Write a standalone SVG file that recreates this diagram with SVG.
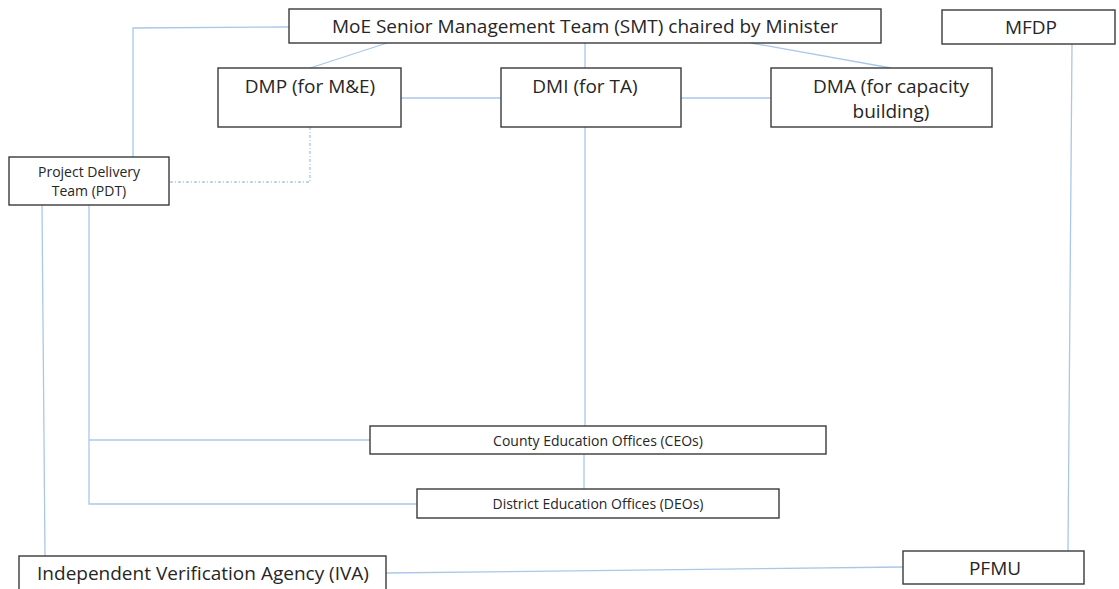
<svg xmlns="http://www.w3.org/2000/svg" width="1119" height="589" viewBox="0 0 1119 589">
  <style>
    .box { fill: #ffffff; stroke: #3a3a3a; stroke-width: 1.4; }
    .lbl { font-family: "Open Sans", "Liberation Sans", sans-serif; fill: #262626; text-anchor: middle; }
    .big { font-size: 19px; }
    .small { font-size: 14px; }
    .link { fill: none; stroke: #a9c8e8; stroke-width: 1.3; }
    .dotted { stroke-dasharray: 3 2 1 2; }
  </style>
  <rect width="1119" height="589" fill="#ffffff"/>

  <g id="connectors">
    <!-- SMT to PDT -->
    <polyline class="link" points="289,27 133,28 133,157"/>
    <!-- SMT to directorates -->
    <line class="link" x1="387" y1="43" x2="310" y2="68"/>
    <line class="link" x1="585" y1="43" x2="585" y2="68"/>
    <line class="link" x1="751" y1="43" x2="891" y2="68"/>
    <!-- directorates linked side by side -->
    <line class="link" x1="401" y1="98" x2="501" y2="98"/>
    <line class="link" x1="681" y1="98" x2="771" y2="98"/>
    <!-- DMP to PDT (dotted) -->
    <polyline class="link dotted" points="310,127 310,182 169,182"/>
    <!-- DMI down to CEOs and DEOs -->
    <line class="link" x1="585" y1="127" x2="585" y2="426"/>
    <line class="link" x1="584" y1="454" x2="584" y2="489"/>
    <!-- PDT to CEOs and DEOs -->
    <polyline class="link" points="89,205 89,504 417,504"/>
    <line class="link" x1="89" y1="440" x2="370" y2="440"/>
    <!-- PDT to IVA -->
    <line class="link" x1="42" y1="205" x2="45" y2="556"/>
    <!-- MFDP to PFMU -->
    <line class="link" x1="1072" y1="44" x2="1068" y2="551"/>
    <!-- IVA to PFMU -->
    <line class="link" x1="386" y1="573" x2="903" y2="567"/>
  </g>

  <g id="smt">
    <rect class="box" x="289" y="9" width="592" height="34"/>
    <text class="lbl big" x="585" y="33">MoE Senior Management Team (SMT) chaired by Minister</text>
  </g>
  <g id="mfdp">
    <rect class="box" x="942" y="10" width="173" height="34"/>
    <text class="lbl big" x="1031" y="34">MFDP</text>
  </g>
  <g id="dmp">
    <rect class="box" x="218" y="68" width="183" height="59"/>
    <text class="lbl big" x="310" y="93">DMP (for M&amp;E)</text>
  </g>
  <g id="dmi">
    <rect class="box" x="501" y="68" width="180" height="59"/>
    <text class="lbl big" x="585" y="93">DMI (for TA)</text>
  </g>
  <g id="dma">
    <rect class="box" x="771" y="68" width="221" height="59"/>
    <text class="lbl big" x="891" y="93">DMA (for capacity</text>
    <text class="lbl big" x="891" y="118">building)</text>
  </g>
  <g id="pdt">
    <rect class="box" x="9" y="157" width="160" height="48"/>
    <text class="lbl small" x="89" y="177">Project Delivery</text>
    <text class="lbl small" x="89" y="196">Team (PDT)</text>
  </g>
  <g id="ceos">
    <rect class="box" x="370" y="426" width="456" height="28"/>
    <text class="lbl small" x="598" y="446">County Education Offices (CEOs)</text>
  </g>
  <g id="deos">
    <rect class="box" x="417" y="489" width="362" height="29"/>
    <text class="lbl small" x="598" y="509">District Education Offices (DEOs)</text>
  </g>
  <g id="iva">
    <rect class="box" x="19" y="556" width="367" height="40"/>
    <text class="lbl big" x="203" y="580">Independent Verification Agency (IVA)</text>
  </g>
  <g id="pfmu">
    <rect class="box" x="903" y="551" width="181" height="33"/>
    <text class="lbl big" x="995" y="575">PFMU</text>
  </g>
</svg>
